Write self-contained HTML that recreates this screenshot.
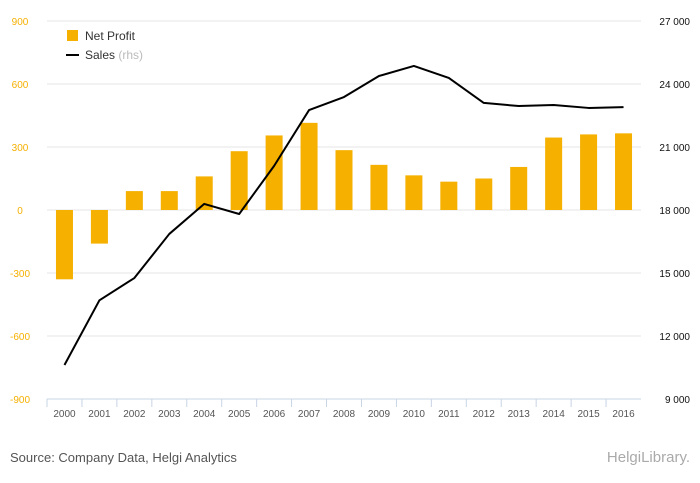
<!DOCTYPE html>
<html><head><meta charset="utf-8"><style>
body{margin:0;background:#fff;font-family:"Liberation Sans",sans-serif}
svg{display:block}
</style></head><body>
<svg id="c" width="700" height="483">
<rect x="0" y="0" width="700" height="483" fill="#ffffff"/>
<g id="grid"></g><g id="bars"></g><g id="line"></g><g id="axes"></g>
<g>
<rect x="67" y="30" width="11" height="11" fill="#f5b000"/>
<text x="85" y="40" font-size="12" fill="#333">Net Profit</text>
<line x1="66" y1="55" x2="79" y2="55" stroke="#000" stroke-width="2"/>
<text x="85" y="59" font-size="12" fill="#333">Sales <tspan fill="#bbb">(rhs)</tspan></text>
</g>
<text x="10" y="462" font-size="13" fill="#555">Source: Company Data, Helgi Analytics</text>
<text x="690" y="462" font-size="15" fill="#aaa" text-anchor="end">HelgiLibrary.</text>
</svg>
<script>
const years=["2000","2001","2002","2003","2004","2005","2006","2007","2008","2009","2010","2011","2012","2013","2014","2015","2016"];
const netProfit=[-330,-160,90,90,160,280,355,415,285,215,165,135,150,205,345,360,365];
const sales=[10620,13700,14760,16860,18290,17810,20100,22760,23380,24380,24860,24290,23100,22950,23000,22860,22900];
const leftTicks=[900,600,300,0,-300,-600,-900];
const rightTicks=["27 000","24 000","21 000","18 000","15 000","12 000","9 000"];
const rightVals=[27000,24000,21000,18000,15000,12000,9000];
const NS="http://www.w3.org/2000/svg";
const x0=47,x1=641,yTop=21,yBot=399;
const step=(x1-x0)/years.length;
const xc=i=>x0+step*(i+0.5);
const yl=v=>yTop+(900-v)/1800*(yBot-yTop);
const yr=v=>yTop+(27000-v)/18000*(yBot-yTop);
function mk(tag,attrs,parent){const e=document.createElementNS(NS,tag);for(const k in attrs)e.setAttribute(k,attrs[k]);document.getElementById(parent).appendChild(e);return e;}
leftTicks.forEach((t,i)=>{
 const g=mk("line",{x1:x0,x2:x1,y1:yl(t),y2:yl(t),stroke:"#e6e6e6","stroke-width":1},"grid");
 
 
 const lt=mk("text",{x:20,y:yl(t)+4,"font-size":10,fill:"#f5b000","text-anchor":"middle"},"axes");
 lt.textContent=t;
 
 
});
rightVals.forEach((v,i)=>{
 const rt=mk("text",{x:690,y:yr(v)+4,"font-size":10,fill:"#111","text-anchor":"end"},"axes");
 rt.textContent=rightTicks[i];
 
 
});
const ax=mk("line",{x1:x0,x2:x1,y1:yBot,y2:yBot,stroke:"#c8d4e6"},"axes");


years.forEach((y,i)=>{
 const tk=mk("line",{x1:x0+step*i,x2:x0+step*i,y1:yBot,y2:yBot+8,stroke:"#c8d4e6"},"axes");
 
 
 const t=mk("text",{x:xc(i),y:yBot+18,"font-size":10,fill:"#555","text-anchor":"middle"},"axes");
 t.textContent=y;
 
 
});
const bw=17;
netProfit.forEach((v,i)=>{
 const r=mk("rect",{x:xc(i)-bw/2,y:Math.min(yl(v),yl(0)),width:bw,height:Math.abs(yl(v)-yl(0)),fill:"#f5b000"},"bars");
 
 
});
const p=mk("polyline",{points:sales.map((v,i)=>xc(i)+","+yr(v)).join(" "),fill:"none",stroke:"#000","stroke-width":2,"stroke-linejoin":"round"},"line");


</script>
</body></html>
